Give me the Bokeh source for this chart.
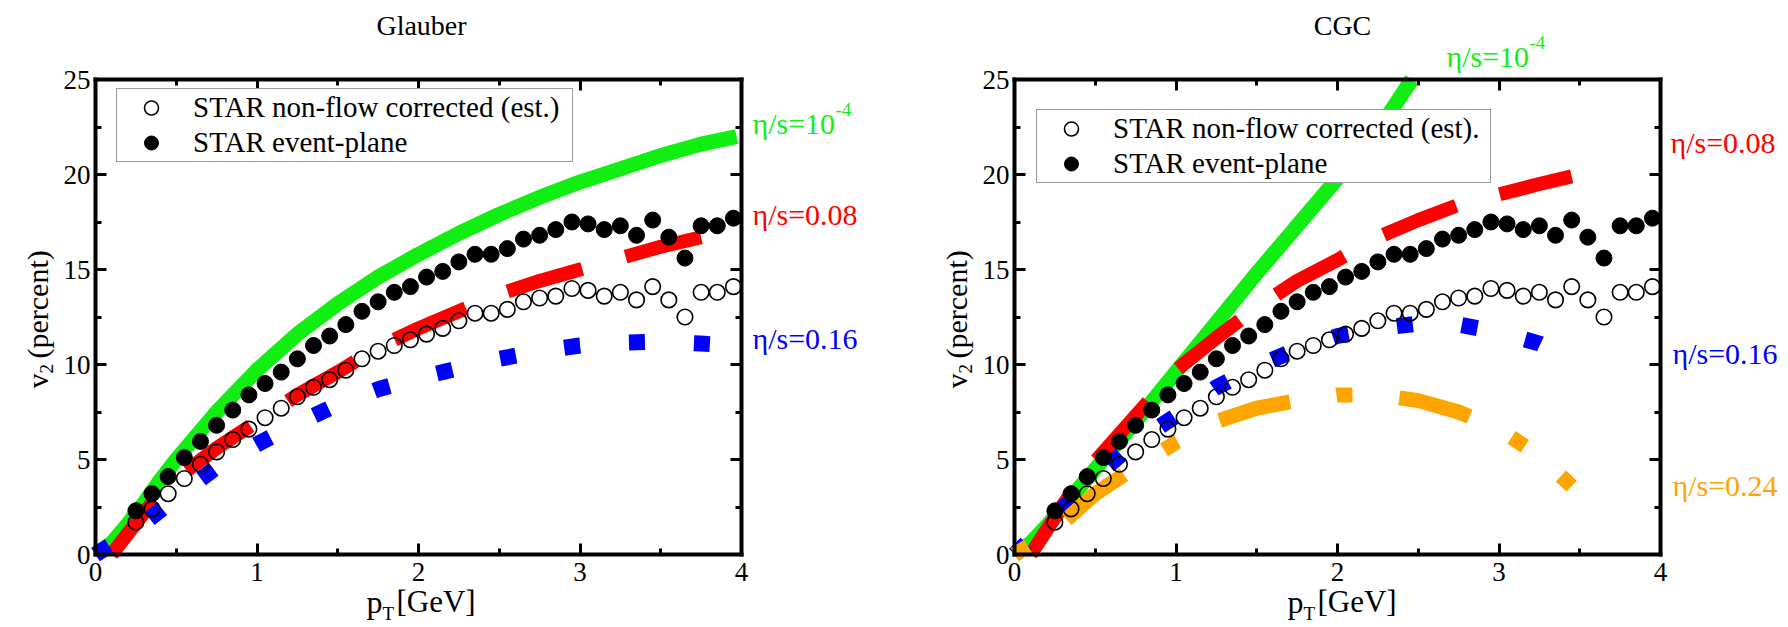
import math
from bokeh.plotting import figure
from bokeh.models import (Range1d, LinearAxis, SingleIntervalTicker, Label, Legend,
                          LegendItem, CustomJSTickFormatter)
from bokeh.layouts import row
from bokeh.embed import file_html
from bokeh.resources import INLINE

FONT = "Liberation Serif"

# ---------------- data ----------------
pt_star = [0.25, 0.35, 0.45, 0.55, 0.65, 0.75, 0.85, 0.95, 1.05, 1.15, 1.25, 1.35, 1.45,
           1.55, 1.65, 1.75, 1.85, 1.95, 2.05, 2.15, 2.25, 2.35, 2.45, 2.55, 2.65, 2.75,
           2.85, 2.95, 3.05, 3.15, 3.25, 3.35, 3.45, 3.55, 3.65, 3.75, 3.85, 3.95]
v2_nonflow = [1.7, 2.4, 3.2, 4.0, 4.75, 5.4, 6.05, 6.6, 7.2, 7.7, 8.3, 8.8, 9.2, 9.7,
              10.3, 10.7, 11.0, 11.3, 11.6, 11.9, 12.3, 12.7, 12.7, 12.9, 13.3, 13.5,
              13.6, 14.0, 13.9, 13.6, 13.8, 13.4, 14.1, 13.4, 12.5, 13.8, 13.8, 14.1]
v2_eventplane = [2.3, 3.2, 4.1, 5.1, 5.95, 6.8, 7.6, 8.4, 9.0, 9.6, 10.3, 11.0, 11.5,
                 12.1, 12.8, 13.3, 13.8, 14.1, 14.6, 14.9, 15.4, 15.8, 15.8, 16.1, 16.6,
                 16.8, 17.1, 17.5, 17.4, 17.1, 17.3, 16.8, 17.6, 16.7, 15.6, 17.3, 17.3, 17.7]

# Glauber hydro curves
gl_pt_1e4 = [0, 0.1, 0.2, 0.3, 0.4, 0.5, 0.75, 1.0, 1.25, 1.5, 1.75, 2.0, 2.25, 2.5,
             2.75, 3.0, 3.25, 3.5, 3.75, 3.97]
gl_v2_1e4 = [0, 0.6, 1.6, 2.7, 3.9, 5.0, 7.5, 9.7, 11.6, 13.2, 14.6, 15.8, 16.9, 17.9,
             18.8, 19.6, 20.3, 21.0, 21.6, 22.0]
gl_pt_008 = [0.1, 0.2, 0.3, 0.4, 0.5, 0.75, 1.0, 1.25, 1.5, 1.75, 2.0, 2.25, 2.5, 2.75,
             3.0, 3.25, 3.5, 3.75, 4.0]
gl_v2_008 = [0.0, 1.1, 2.2, 3.2, 4.0, 5.6, 7.0, 8.4, 9.6, 10.9, 11.9, 12.8, 13.7, 14.4,
             15.0, 15.6, 16.2, 16.7, 17.2]
gl_pt_016 = [0, 0.25, 0.5, 0.75, 1.0, 1.25, 1.5, 1.75, 2.0, 2.25, 2.5, 2.75, 3.0, 3.25,
             3.5, 3.75, 3.85]
gl_v2_016 = [0, 1.3, 3.0, 4.6, 5.8, 6.9, 7.9, 8.7, 9.3, 9.8, 10.3, 10.7, 11.0, 11.15,
             11.2, 11.1, 11.05]

# CGC hydro curves (the ideal curve leaves the frame at the top)
cgc_pt_1e4 = [0, 0.1, 0.2, 0.3, 0.4, 0.5, 0.75, 1.0, 1.25, 1.5, 1.75, 2.0, 2.25, 2.46]
cgc_v2_1e4 = [0, 0.6, 1.5, 2.5, 3.5, 4.5, 7.0, 9.6, 12.2, 14.8, 17.3, 19.8, 22.3, 25.0]
cgc_pt_008 = [0.1, 0.2, 0.3, 0.4, 0.5, 0.75, 1.0, 1.25, 1.5, 1.75, 2.0, 2.25, 2.5, 2.75,
              3.0, 3.25, 3.45]
cgc_v2_008 = [0, 1.3, 2.6, 3.8, 4.9, 7.3, 9.7, 11.4, 13.0, 14.4, 15.5, 16.7, 17.6, 18.4,
              18.95, 19.5, 19.9]
cgc_pt_016 = [0, 0.25, 0.5, 0.75, 1.0, 1.25, 1.5, 1.75, 2.0, 2.25, 2.5, 2.75, 3.0, 3.25, 3.3]
cgc_v2_016 = [0, 2.0, 4.1, 5.9, 7.3, 8.8, 9.9, 10.8, 11.5, 11.9, 12.15, 12.1, 11.7, 11.1, 10.9]
cgc_pt_024 = [0, 0.25, 0.5, 0.75, 1.0, 1.25, 1.5, 1.75, 2.0, 2.25, 2.5, 2.75, 3.0, 3.25, 3.45]
cgc_v2_024 = [0, 1.3, 3.2, 4.6, 5.9, 7.0, 7.7, 8.1, 8.4, 8.4, 8.1, 7.5, 6.6, 5.2, 3.6]

x_limits = (0, 4)
y_limits = (0, 25)
x_tick_interval = 1
y_tick_interval = 5

GREEN = "#11ee11"
RED = "#ff0000"
BLUE = "#0000ff"
ORANGE = "#ffa500"

FIG_H = 627
FRAME_W, FRAME_H = 646, 475
FRAME_BOTTOM = 554
XPX = FRAME_W / (x_limits[1] - x_limits[0])
YPX = FRAME_H / (y_limits[1] - y_limits[0])


def make_panel(fig_left, fig_width, frame_left):
    def fx(px):
        return (px - frame_left) / XPX

    def fy(py):
        return (FRAME_BOTTOM - py) / YPX

    p = figure(width=fig_width, height=FIG_H, title=None,
               x_range=Range1d(fx(fig_left), fx(fig_left + fig_width)),
               y_range=Range1d(fy(FIG_H), fy(0)),
               output_backend="svg", toolbar_location=None,
               min_border_left=0, min_border_right=0, min_border_top=0, min_border_bottom=0,
               background_fill_color="white", border_fill_color="white")
    p.grid.visible = False
    p.outline_line_color = None

    bottom = p.below[0]
    left = p.left[0]
    bottom.ticker = SingleIntervalTicker(interval=x_tick_interval, num_minor_ticks=2)
    left.ticker = SingleIntervalTicker(interval=y_tick_interval, num_minor_ticks=2)
    bottom.fixed_location = y_limits[0]
    left.fixed_location = x_limits[0]
    top = LinearAxis(ticker=SingleIntervalTicker(interval=x_tick_interval, num_minor_ticks=2),
                     formatter=CustomJSTickFormatter(code="return ''"),
                     fixed_location=y_limits[1])
    right = LinearAxis(ticker=SingleIntervalTicker(interval=y_tick_interval, num_minor_ticks=2),
                       formatter=CustomJSTickFormatter(code="return ''"),
                       fixed_location=x_limits[1])
    p.add_layout(top, "above")
    p.add_layout(right, "right")
    for ax in [bottom, top]:
        ax.bounds = x_limits
    for ax in [left, right]:
        ax.bounds = y_limits
    for ax in [bottom, left, top, right]:
        ax.axis_line_width = 4
        ax.axis_line_color = "black"
        ax.axis_line_cap = "square"
        ax.major_tick_line_width = 3
        ax.minor_tick_line_width = 3
        ax.major_tick_line_color = "black"
        ax.minor_tick_line_color = "black"
        ax.major_tick_in = 11
        ax.major_tick_out = 0
        ax.minor_tick_in = 6
        ax.minor_tick_out = 0
        ax.major_label_text_font = FONT
        ax.major_label_text_font_size = "27px"
        ax.major_label_text_color = "black"
    bottom.major_label_standoff = 8
    left.major_label_standoff = 5

    def txt(px, py, text, size, color="black", angle=0.0, align="left", baseline="alphabetic"):
        p.add_layout(Label(x=fx(px), y=fy(py), text=text, text_font=FONT,
                           text_font_size=f"{size}px", text_color=color, angle=angle,
                           text_align=align, text_baseline=baseline))

    return p, txt


def add_points(p):
    r_open = p.scatter(pt_star, v2_nonflow, marker="circle", size=15.5, fill_color=None,
                       line_color="black", line_width=1.6)
    r_fill = p.scatter(pt_star, v2_eventplane, marker="circle", size=16, fill_color="black",
                       line_color="black", line_width=1)
    return r_open, r_fill


def add_legend(p, r_open, r_fill, nonflow_label, vx, vy, label_w):
    leg = Legend(items=[LegendItem(label=nonflow_label, renderers=[r_open]),
                        LegendItem(label="STAR event-plane", renderers=[r_fill])],
                 location=(vx, vy))
    leg.label_text_font = FONT
    leg.label_text_font_size = "29px"
    leg.label_text_color = "black"
    leg.glyph_width = 66
    leg.glyph_height = 35
    leg.label_height = 35
    leg.label_width = label_w
    leg.spacing = 0
    leg.padding = 1
    leg.margin = 0
    leg.label_standoff = 9
    leg.border_line_color = "#333333"
    leg.border_line_width = 1.5
    leg.background_fill_color = "white"
    leg.background_fill_alpha = 1.0
    p.add_layout(leg, "center")


HALF = math.pi / 2

# ---------------- Glauber panel ----------------
p1, t1 = make_panel(0, 922, 95)
p1.line(gl_pt_1e4, gl_v2_1e4, line_color=GREEN, line_width=15, line_cap="butt", line_join="round")
p1.line(gl_pt_008, gl_v2_008, line_color=RED, line_width=14, line_dash="78 45",
        line_dash_offset=10, line_cap="butt", line_join="round")
p1.line(gl_pt_016, gl_v2_016, line_color=BLUE, line_width=16, line_dash="16 49",
        line_cap="butt", line_join="round")
o1, f1 = add_points(p1)
add_legend(p1, o1, f1, "STAR non-flow corrected (est.)", 116, FIG_H - 162, 378)

t1(421, 25, "Glauber", 28, align="center")
t1(366, 601, "p", 32)
t1(382, 613, "T", 19)
t1(396, 601, "[GeV]", 31)
t1(37, 388, "v", 30, angle=HALF, baseline="middle")
t1(46, 373, "2", 19, angle=HALF, baseline="middle")
t1(37, 358, "(percent)", 30, angle=HALF, baseline="middle")
t1(752, 123, "η/s=10", 30, GREEN)
t1(835, 109, "-4", 19, GREEN)
t1(752, 214, "η/s=0.08", 30, RED)
t1(752, 338, "η/s=0.16", 30, BLUE)

# ---------------- CGC panel ----------------
p2, t2 = make_panel(922, 866, 1014)
p2.line(cgc_pt_1e4, cgc_v2_1e4, line_color=GREEN, line_width=15, line_cap="butt", line_join="round")
p2.line(cgc_pt_008, cgc_v2_008, line_color=RED, line_width=14, line_dash="78 45",
        line_dash_offset=8, line_cap="butt", line_join="round")
p2.line(cgc_pt_016, cgc_v2_016, line_color=BLUE, line_width=16, line_dash="16 49",
        line_cap="butt", line_join="round")
p2.line(cgc_pt_024, cgc_v2_024, line_color=ORANGE, line_width=15, line_dash="16 47 73 47",
        line_cap="butt", line_join="round")
o2, f2 = add_points(p2)
add_legend(p2, o2, f2, "STAR non-flow corrected (est).", 1036 - 922, FIG_H - 183, 376)

t2(1342, 25, "CGC", 28, align="center")
t2(1287, 601, "p", 32)
t2(1303, 613, "T", 19)
t2(1317, 601, "[GeV]", 31)
t2(956, 388, "v", 30, angle=HALF, baseline="middle")
t2(965, 373, "2", 19, angle=HALF, baseline="middle")
t2(956, 358, "(percent)", 30, angle=HALF, baseline="middle")
t2(1446, 56, "η/s=10", 30, GREEN)
t2(1529, 42, "-4", 19, GREEN)
t2(1670, 142, "η/s=0.08", 30, RED)
t2(1672, 353, "η/s=0.16", 30, BLUE)
t2(1672, 485, "η/s=0.24", 30, ORANGE)

layout = row(p1, p2)
open("out.html", "w").write(file_html(layout, INLINE))
